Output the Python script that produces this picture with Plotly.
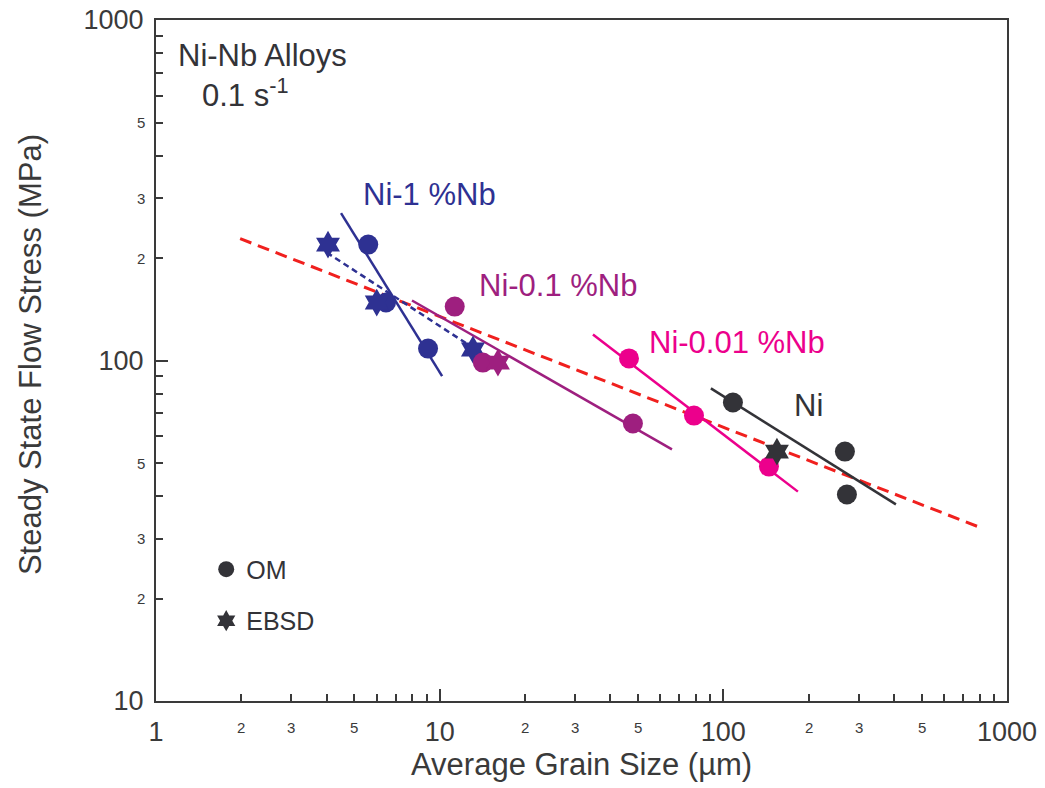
import numpy as np
import plotly.graph_objects as go

# ---- data: grain size (µm) vs steady state flow stress (MPa) ----
ni1_om_x = [5.6, 6.47, 9.1]
ni1_om_y = [219, 148, 108.4]
ni1_ebsd_x = [4.04, 6.0, 13.1]
ni1_ebsd_y = [219, 148, 107.7]
ni1_fit_x = [4.49, 10.2]
ni1_fit_y = [271, 90]
ni1_ebsd_fit_x = [4.0, 12.6]
ni1_ebsd_fit_y = [207.5, 111.4]

ni01_om_x = [11.3, 14.2, 48.0]
ni01_om_y = [144, 98.6, 65.3]
ni01_ebsd_x = [16.05]
ni01_ebsd_y = [98.6]
ni01_fit_x = [7.99, 65.9]
ni01_fit_y = [150, 54.8]

ni001_om_x = [46.5, 78.8, 144.8]
ni001_om_y = [101.4, 68.9, 48.8]
ni001_fit_x = [34.7, 183.2]
ni001_fit_y = [119.2, 41.2]

ni_om_x = [108.1, 268.3, 272.7]
ni_om_y = [75.3, 54.0, 40.4]
ni_ebsd_x = [154.5]
ni_ebsd_y = [54.0]
ni_fit_x = [90.4, 405.9]
ni_fit_y = [82.8, 37.8]

all_fit_x = [1.98, 822]
all_fit_y = [228, 32.1]

major_ticks = [1, 10, 100, 1000]
minor_labels = [2, 3, 5]
minor_ticks = [m * d for d in [1, 10, 100] for m in range(2, 10)]

NAVY = "#2E3192"
PURPLE = "#9E1F7F"
MAGENTA = "#EC008C"
DARK = "#333338"
RED = "#F0201E"
AXIS = "#3A3A3A"
FONT = "Liberation Sans, Arial, sans-serif"

fig = go.Figure()

# overall fit line
fig.add_trace(go.Scatter(x=all_fit_x, y=all_fit_y, mode="lines",
                         line=dict(color=RED, width=3, dash="12px,7px"),
                         showlegend=False, hoverinfo="skip"))

# per-alloy fit lines
for fx, fy, col, dash in [
    (ni1_fit_x, ni1_fit_y, NAVY, "solid"),
    (ni1_ebsd_fit_x, ni1_ebsd_fit_y, NAVY, "6px,4px"),
    (ni01_fit_x, ni01_fit_y, PURPLE, "solid"),
    (ni001_fit_x, ni001_fit_y, MAGENTA, "solid"),
    (ni_fit_x, ni_fit_y, DARK, "solid"),
]:
    fig.add_trace(go.Scatter(x=fx, y=fy, mode="lines",
                             line=dict(color=col, width=2.5, dash=dash),
                             showlegend=False, hoverinfo="skip"))

# measured points
for px, py, col, sym in [
    (ni1_om_x, ni1_om_y, NAVY, "circle"),
    (ni1_ebsd_x, ni1_ebsd_y, NAVY, "hexagram"),
    (ni01_om_x, ni01_om_y, PURPLE, "circle"),
    (ni01_ebsd_x, ni01_ebsd_y, PURPLE, "hexagram"),
    (ni001_om_x, ni001_om_y, MAGENTA, "circle"),
    (ni_om_x, ni_om_y, DARK, "circle"),
    (ni_ebsd_x, ni_ebsd_y, DARK, "hexagram"),
]:
    fig.add_trace(go.Scatter(x=px, y=py, mode="markers",
                             marker=dict(color=col, size=20 if sym == "circle" else 21,
                                         symbol=sym, line=dict(width=0)),
                             showlegend=False))

# legend entries (symbol meaning)
fig.add_trace(go.Scatter(x=[None], y=[None], mode="markers", name="OM",
                         legendgroup="om",
                         marker=dict(color=DARK, size=20, symbol="circle")))
fig.add_trace(go.Scatter(x=[None], y=[None], mode="markers", name="EBSD",
                         legendgroup="ebsd",
                         marker=dict(color=DARK, size=20, symbol="hexagram")))

annotations = []
# small intermediate tick labels
for d in [1, 10, 100]:
    for m in minor_labels:
        annotations.append(dict(x=np.log10(m * d), y=0, xref="x", yref="paper",
                                text=str(m), showarrow=False, yanchor="top",
                                yshift=-16, font=dict(size=15, color=AXIS, family=FONT)))
for d in [10, 100]:
    for m in minor_labels:
        annotations.append(dict(x=0, y=np.log10(m * d), xref="paper", yref="y",
                                text=str(m), showarrow=False, xanchor="right",
                                xshift=-9, font=dict(size=15, color=AXIS, family=FONT)))

# series labels
for txt, lx, ly, col in [
    ("Ni-1 %Nb", 5.3, 308, NAVY),
    ("Ni-0.1 %Nb", 13.5, 166.6, PURPLE),
    ("Ni-0.01 %Nb", 53.6, 112.6, MAGENTA),
    ("Ni", 174, 74, DARK),
]:
    annotations.append(dict(x=np.log10(lx), y=np.log10(ly), xref="x", yref="y",
                            text=txt, showarrow=False, xanchor="left", yanchor="middle",
                            font=dict(size=31, color=col, family=FONT)))

annotations.append(dict(x=0.023, y=0.9486, xref="paper", yref="paper",
                        text="Ni-Nb Alloys", showarrow=False, xanchor="left",
                        yanchor="middle", font=dict(size=31, color=DARK, family=FONT)))
annotations.append(dict(x=0.052, y=0.893, xref="paper", yref="paper",
                        text="0.1 s<sup>-1</sup>", showarrow=False, xanchor="left",
                        yanchor="middle", font=dict(size=31, color=DARK, family=FONT)))

# axis titles
annotations.append(dict(x=0.5, y=0, xref="paper", yref="paper",
                        text="Average Grain Size (µm)", showarrow=False,
                        xanchor="center", yanchor="middle", yshift=-63,
                        font=dict(size=31, color=AXIS, family=FONT)))
annotations.append(dict(x=0, y=0.508, xref="paper", yref="paper",
                        text="Steady State Flow Stress (MPa)", showarrow=False,
                        textangle=-90, xanchor="center", yanchor="middle", xshift=-126,
                        font=dict(size=31, color=AXIS, family=FONT)))

axis_common = dict(
    type="log",
    automargin=False,
    showgrid=False,
    zeroline=False,
    showline=True,
    linecolor=AXIS,
    linewidth=2,
    mirror=True,
    ticks="inside",
    ticklen=12,
    tickwidth=1.5,
    tickcolor=AXIS,
    tickvals=major_ticks,
    ticktext=[str(v) for v in major_ticks],
    tickfont=dict(size=27, color=AXIS, family=FONT),
    minor=dict(ticks="inside", ticklen=7, tickwidth=1.5, tickcolor=AXIS,
               tickvals=minor_ticks, showgrid=False),
)

fig.update_layout(
    width=1045,
    height=788,
    margin=dict(l=156, r=38, t=20, b=86.5),
    paper_bgcolor="white",
    plot_bgcolor="white",
    font=dict(family=FONT, color=AXIS),
    xaxis=dict(axis_common, range=[0, 3], ticklabelstandoff=6),
    yaxis=dict(axis_common, range=[1, 3], ticklabelstandoff=5),
    legend=dict(x=0.059, y=0.227, xanchor="left", yanchor="top",
                bgcolor="rgba(0,0,0,0)", tracegroupgap=16,
                font=dict(size=25, color=DARK, family=FONT)),
    annotations=annotations,
)

fig.write_html("out.html")
